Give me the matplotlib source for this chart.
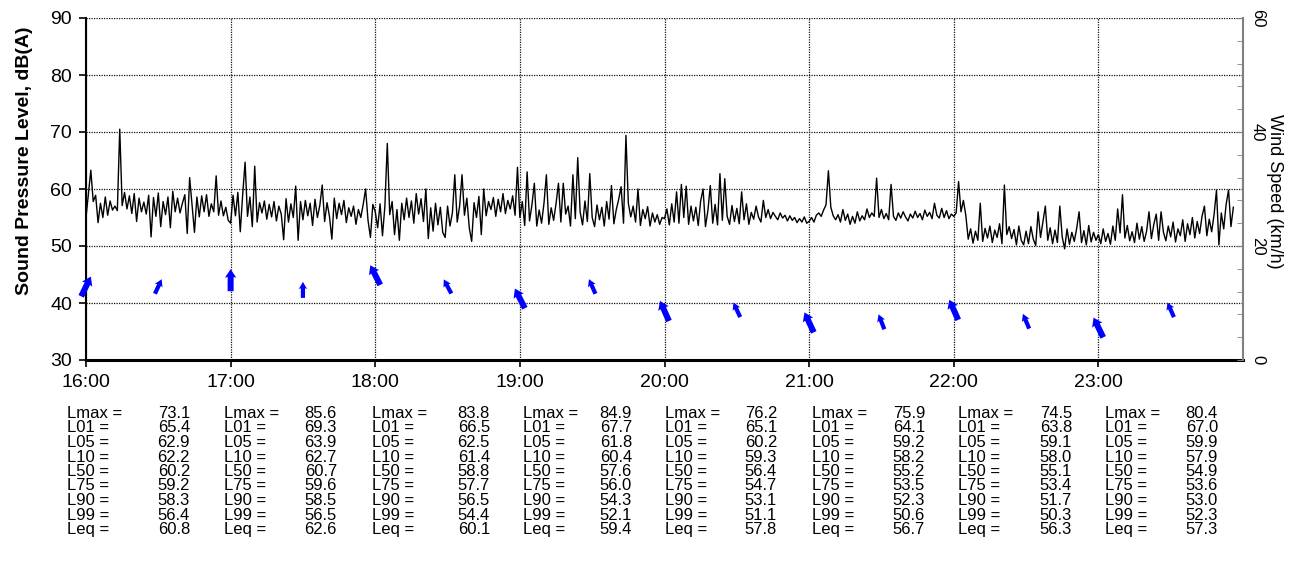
import numpy as np
import matplotlib
matplotlib.use("Agg")
import matplotlib.pyplot as plt
from matplotlib.ticker import MultipleLocator, FuncFormatter

plt.rcParams['font.family'] = ['Liberation Sans', 'DejaVu Sans']

# 1-minute sound levels, dB(A), one list per hour (16:00 ... 23:56)
spl_16 = [55.0, 59.2, 63.3, 57.8, 58.9, 54.1, 57.5, 55.0, 58.6, 55.4,
          57.9, 56.3, 57.0, 56.2, 70.5, 57.1, 59.4, 56.5, 58.8, 55.7,
          59.2, 54.3, 58.4, 56.0, 57.7, 55.6, 58.9, 51.6, 58.5, 55.2,
          59.3, 53.4, 57.8, 55.5, 58.6, 53.2, 59.6, 56.0, 58.4, 55.8,
          57.5, 59.0, 52.2, 62.0, 57.3, 52.4, 58.6, 55.1, 58.8, 56.0,
          59.0, 55.2, 57.4, 56.0, 62.3, 55.4, 57.9, 55.3, 56.8, 54.5]
spl_17 = [54.0, 58.9, 55.3, 59.4, 52.5, 59.0, 64.7, 55.2, 58.6, 53.4,
          64.0, 54.2, 57.6, 55.8, 57.9, 54.7, 57.3, 55.1, 57.8, 54.4,
          57.0, 55.6, 51.1, 58.3, 54.2, 57.4, 55.0, 60.5, 51.0, 57.8,
          54.6, 58.0, 55.3, 57.5, 53.6, 58.2, 55.0, 57.1, 60.7, 54.3,
          57.6, 55.2, 51.2, 58.4, 54.8, 57.5, 55.5, 58.0, 54.1, 56.7,
          55.2, 57.0, 53.8, 56.4, 55.0, 57.3, 60.0, 54.5, 51.5, 57.3]
spl_18 = [56.0, 53.2, 57.4, 51.8, 57.0, 68.0, 55.5, 57.8, 52.0, 56.4,
          51.0, 57.5, 54.6, 58.4, 55.0, 57.9, 54.0, 59.2, 55.6, 58.3,
          54.3, 60.0, 51.3, 56.7, 52.6, 57.5, 53.7, 56.8, 52.4, 51.5,
          57.0, 53.5, 55.8, 62.5, 54.2, 57.0, 62.5, 55.4, 58.4, 53.2,
          50.8, 57.6, 55.0, 58.7, 52.0, 60.0, 55.3, 57.8, 56.4, 58.5,
          55.2, 58.2, 56.0, 59.2, 55.7, 58.0, 56.5, 58.8, 55.4, 63.8]
spl_19 = [55.0, 57.8, 53.6, 63.0, 54.4, 57.2, 61.0, 53.5, 56.3, 54.0,
          57.5, 62.5, 53.8, 56.7, 54.5, 57.4, 61.0, 54.2, 61.0, 55.6,
          57.0, 53.5, 62.5, 54.8, 65.5, 56.0, 53.7, 57.9, 54.3, 62.7,
          55.0, 53.4, 57.2, 54.6, 56.8, 53.5, 57.8, 54.7, 60.6, 53.9,
          56.4, 58.2, 60.4, 54.0, 69.4, 57.5, 55.1, 57.0, 54.2, 60.0,
          53.6, 56.4, 54.8, 56.9, 53.5, 55.8, 54.2, 55.5, 53.8, 55.0]
spl_20 = [54.8, 56.5, 53.7, 57.4, 54.2, 59.5, 54.0, 60.8, 55.0, 60.5,
          53.8, 57.0, 54.4, 56.8, 53.6, 57.9, 60.0, 53.4, 56.2, 60.6,
          54.0, 57.3, 53.7, 62.7, 54.5, 61.8, 55.2, 53.8, 57.1, 54.3,
          56.6, 53.9, 59.5, 54.6, 57.4, 53.8, 55.9, 54.7, 57.0, 55.1,
          54.2, 58.0, 55.0, 56.4, 54.8, 55.9, 55.2, 54.6, 55.8, 54.9,
          55.4, 54.4, 55.3, 54.5, 55.0, 54.1, 54.8, 54.2, 55.1, 54.0]
spl_21 = [54.3, 55.0, 54.2, 55.4, 55.8, 55.2, 56.3, 57.2, 63.2, 56.8,
          55.3, 54.6, 55.5, 54.2, 56.4, 54.5, 55.6, 53.8, 55.2, 54.0,
          56.0, 54.4, 55.3, 54.6, 56.5, 55.0, 55.8, 55.2, 61.9, 55.0,
          56.4, 54.8, 55.7, 54.6, 60.8, 55.2, 54.5, 55.8, 54.9, 56.0,
          55.1, 54.4, 55.6, 54.9, 56.1, 55.0, 55.7, 54.6, 56.3, 55.2,
          55.9, 54.8, 57.5, 55.4, 54.9, 56.6, 55.0, 56.2, 54.8, 55.6]
spl_22 = [55.2, 55.8, 61.3, 56.0, 58.0, 55.4, 51.2, 53.0, 50.5, 52.6,
          51.0, 57.5, 50.8, 53.1, 51.4, 53.5, 50.6, 52.8, 51.5, 53.9,
          50.4, 60.7, 52.0, 53.4, 51.3, 52.9, 50.2, 53.5, 51.0, 50.2,
          52.6, 50.4, 53.4, 51.2, 50.1, 56.0, 51.5, 54.2, 57.0, 51.0,
          53.2, 50.4, 52.8, 50.6, 57.0, 51.6, 49.5, 53.0, 50.3, 52.4,
          50.8, 53.1, 56.0, 50.6, 52.7, 50.2, 53.6, 50.7, 52.4, 51.0]
spl_23 = [52.0, 50.4, 53.0, 50.8, 52.2, 50.3, 53.5, 51.0, 56.5, 52.3,
          59.0, 51.4, 53.6, 50.9, 52.5, 50.6, 54.0, 51.2, 53.4, 50.8,
          52.6, 56.0, 51.3, 53.8, 55.6, 51.0, 56.0, 52.4, 50.9, 53.5,
          51.6, 54.2, 50.7, 53.0, 51.8, 54.6, 50.8, 53.9, 52.0, 55.0,
          51.4, 54.3, 52.2, 55.2, 57.0, 51.8, 54.7, 52.5, 55.5, 59.8,
          50.2, 55.8, 53.0, 57.3, 59.8, 53.4, 56.8]

# wind every 30 minutes: speed (km/h) and direction the arrow points (deg from north)
wind_time = [16.0, 16.5, 17.0, 17.5, 18.0, 18.5, 19.0, 19.5,
             20.0, 20.5, 21.0, 21.5, 22.0, 22.5, 23.0, 23.5]
wind_speed = [12.9, 12.9, 14.0, 12.3, 14.9, 12.9, 10.8, 12.9,
              8.6, 8.8, 6.6, 6.7, 8.8, 6.8, 5.7, 8.8]
wind_dir = [26, 25, 0, 0, 333, 332, 333, 336,
            336, 335, 335, 339, 336, 337, 334, 336]

# hourly statistics
stat_names = ['Lmax', 'L01', 'L05', 'L10', 'L50', 'L75', 'L90', 'L99', 'Leq']
lmax = [73.1, 85.6, 83.8, 84.9, 76.2, 75.9, 74.5, 80.4]
l01 = [65.4, 69.3, 66.5, 67.7, 65.1, 64.1, 63.8, 67.0]
l05 = [62.9, 63.9, 62.5, 61.8, 60.2, 59.2, 59.1, 59.9]
l10 = [62.2, 62.7, 61.4, 60.4, 59.3, 58.2, 58.0, 57.9]
l50 = [60.2, 60.7, 58.8, 57.6, 56.4, 55.2, 55.1, 54.9]
l75 = [59.2, 59.6, 57.7, 56.0, 54.7, 53.5, 53.4, 53.6]
l90 = [58.3, 58.5, 56.5, 54.3, 53.1, 52.3, 51.7, 53.0]
l99 = [56.4, 56.5, 54.4, 52.1, 51.1, 50.6, 50.3, 52.3]
leq = [60.8, 62.6, 60.1, 59.4, 57.8, 56.7, 56.3, 57.3]
stats = [lmax, l01, l05, l10, l50, l75, l90, l99, leq]

spl = spl_16 + spl_17 + spl_18 + spl_19 + spl_20 + spl_21 + spl_22 + spl_23
t = 16 + np.arange(len(spl)) / 60.0

W, H = 1290, 577
fig = plt.figure(figsize=(W / 100, H / 100), dpi=100)
ax = fig.add_axes([86 / W, 1 - 360 / H, (1243 - 86) / W, 342 / H])

ax.plot(t, spl, color='black', lw=1.0, zorder=3)
ax.set_xlim(16, 24)
ax.set_ylim(30, 90)
ax.set_xticks(range(16, 24))
ax.xaxis.set_major_formatter(FuncFormatter(lambda v, p: "{}:00".format(int(v))))
ax.set_yticks(range(30, 91, 10))
ax.grid(True, color='#111111', lw=0.9, linestyle=(0, (1, 1)), zorder=0)
ax.tick_params(labelsize=14, length=5, width=1.2, pad=5)
for s in ['top', 'right']:
    ax.spines[s].set_visible(False)
ax.spines['left'].set_linewidth(1.5)
ax.spines['bottom'].set_linewidth(2.2)
ax.set_ylabel('Sound Pressure Level, dB(A)', fontsize=14, fontweight='bold')
ax.yaxis.set_label_coords(-0.046, 0.582)

ax2 = ax.twinx()
ax2.set_ylim(0, 60)
ax2.set_yticks([0, 20, 40, 60])
ax2.yaxis.set_minor_locator(MultipleLocator(4))
ax2.tick_params(which='both', direction='in', length=4, color='#808080',
                labelsize=12, labelrotation=-90, pad=5)
for lbl in ax2.get_yticklabels():
    lbl.set_verticalalignment('center')
for s in ['top', 'left', 'bottom']:
    ax2.spines[s].set_visible(False)
ax2.spines['right'].set_color('#808080')
ax2.spines['right'].set_linewidth(1.5)
ax2.set_ylabel('Wind Speed (km/h)', fontsize=13, rotation=270, va='center', ha='center')
ax2.yaxis.set_label_coords(1.0275, 0.494)

# wind arrows, longer on the hour
wt = np.array(wind_time)
ws = np.array(wind_speed)
wd = np.radians(wind_dir)
on_hour = (wt % 1) == 0
alen = np.where(on_hour, 22.0, 16.0)
U = alen * np.sin(wd)
V = alen * np.cos(wd)
q1 = ax2.quiver(wt[on_hour], ws[on_hour], U[on_hour], V[on_hour], color='blue',
                units='dots', scale_units='dots', scale=1, angles='uv', pivot='middle',
                width=6, headwidth=1.9, headlength=1.4, headaxislength=1.3, zorder=4)
q2 = ax2.quiver(wt[~on_hour], ws[~on_hour], U[~on_hour], V[~on_hour], color='blue',
                units='dots', scale_units='dots', scale=1, angles='uv', pivot='middle',
                width=4.2, headwidth=2.0, headlength=1.7, headaxislength=1.5, zorder=4)
q1.set_clip_on(False)
q2.set_clip_on(False)

# statistics table under the chart
label_left = [67, 224, 372, 523, 665, 812, 958, 1105]
value_right = [190, 337, 490, 632, 777, 925, 1072, 1218]
for j in range(len(lmax)):
    for i, name in enumerate(stat_names):
        yb = 1 - (418 + i * 14.5) / H
        fig.text(label_left[j] / W, yb, name + ' =', fontsize=12, va='baseline', ha='left')
        fig.text(value_right[j] / W, yb, "{:.1f}".format(stats[i][j]), fontsize=12,
                 va='baseline', ha='right')

fig.savefig('out.png', dpi=100)
